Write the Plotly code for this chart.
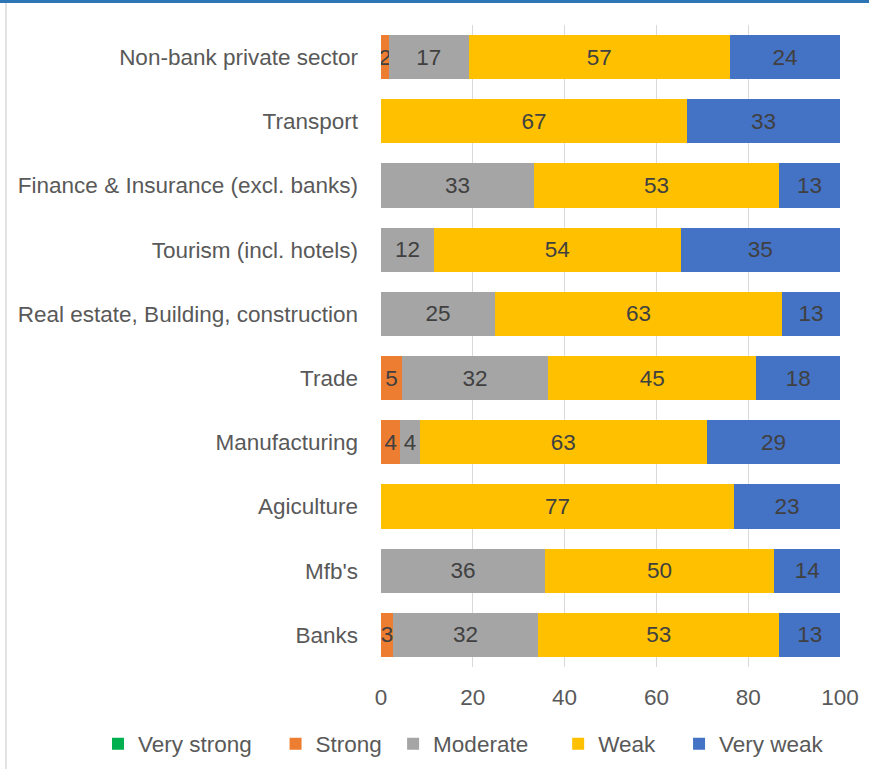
import plotly.graph_objects as go

# Sectors, listed from top to bottom
sectors = [
    "Non-bank private sector",
    "Transport",
    "Finance & Insurance (excl. banks)",
    "Tourism (incl. hotels)",
    "Real estate, Building, construction",
    "Trade",
    "Manufacturing",
    "Agiculture",
    "Mfb's",
    "Banks",
]

# Share of respondents (%) per rating
very_strong = [0, 0, 0, 0, 0, 0, 0, 0, 0, 0]
strong = [1.7, 0, 0, 0, 0, 4.6, 4.2, 0, 0, 2.6]
moderate = [17.4, 0, 33.3, 11.5, 24.8, 31.8, 4.2, 0, 35.7, 31.6]
weak = [56.9, 66.7, 53.4, 53.8, 62.6, 45.4, 62.6, 76.9, 50.0, 52.6]
very_weak = [24.0, 33.3, 13.3, 34.7, 12.6, 18.2, 29.0, 23.1, 14.3, 13.2]

x_ticks = [0, 20, 40, 60, 80, 100]

series = [
    ("Very strong", very_strong, "#00B050"),
    ("Strong", strong, "#ED7D31"),
    ("Moderate", moderate, "#A5A5A5"),
    ("Weak", weak, "#FFC000"),
    ("Very weak", very_weak, "#4472C4"),
]

# extra trailing space after each legend entry (non-breaking spaces)
legend_pad = {"Very strong": 3, "Strong": 1, "Moderate": 4, "Weak": 3, "Very weak": 0}

FONT = "Liberation Sans"
FS = 22.5
W, H = 869, 769
L, R, T, B = 381, 29, 25, 102

fig = go.Figure()
for name, vals, color in series:
    fig.add_trace(go.Bar(
        y=sectors,
        x=vals,
        name=name + "\u00a0" * legend_pad[name],
        orientation="h",
        marker=dict(color=color, line=dict(width=0)),
        text=[f"{v:.0f}" if v > 0 else "" for v in vals],
        textposition="inside",
        insidetextanchor="middle",
        textfont=dict(family=FONT, size=FS, color="#404040"),
        hovertemplate=name + ": %{x:.0f}<extra>%{y}</extra>",
    ))

# Frame decorations: blue rule along the top, thin grey rule on the left
pw, ph = W - L - R, H - T - B
def px_x(p):
    return (p - L) / pw
def px_y(p):
    return (H - B - p) / ph

shapes = [
    dict(type="rect", xref="paper", yref="paper",
         x0=px_x(0), x1=px_x(W), y0=px_y(3), y1=px_y(0),
         fillcolor="#2E75B6", line=dict(width=0), layer="above"),
    dict(type="line", xref="paper", yref="paper",
         x0=px_x(6), x1=px_x(6), y0=px_y(H), y1=px_y(3),
         line=dict(color="#D9D9D9", width=1.5)),
]

fig.update_layout(
    width=W, height=H,
    margin=dict(l=L, r=R, t=T, b=B, autoexpand=False),
    barmode="stack",
    bargap=0.31,
    plot_bgcolor="white",
    paper_bgcolor="white",
    font=dict(family=FONT, size=FS, color="#595959"),
    uniformtext=dict(minsize=FS, mode="show"),
    shapes=shapes,
    xaxis=dict(
        range=[0, 100],
        tickvals=x_ticks,
        showgrid=True,
        gridcolor="#D9D9D9",
        gridwidth=1,
        zeroline=False,
        showline=False,
        ticks="",
        ticklabelstandoff=14,
        tickfont=dict(family=FONT, size=FS, color="#595959"),
        fixedrange=True,
    ),
    yaxis=dict(
        autorange="reversed",
        showgrid=False,
        showline=False,
        ticks="",
        ticklabelstandoff=22,
        tickfont=dict(family=FONT, size=FS, color="#595959"),
    ),
    legend=dict(
        orientation="h",
        x=px_x(98), xanchor="left",
        y=px_y(744), yanchor="middle",
        bgcolor="rgba(0,0,0,0)",
        font=dict(family=FONT, size=FS, color="#595959"),
        traceorder="normal",
        itemwidth=30,
    ),
)

fig.write_html("out.html")
